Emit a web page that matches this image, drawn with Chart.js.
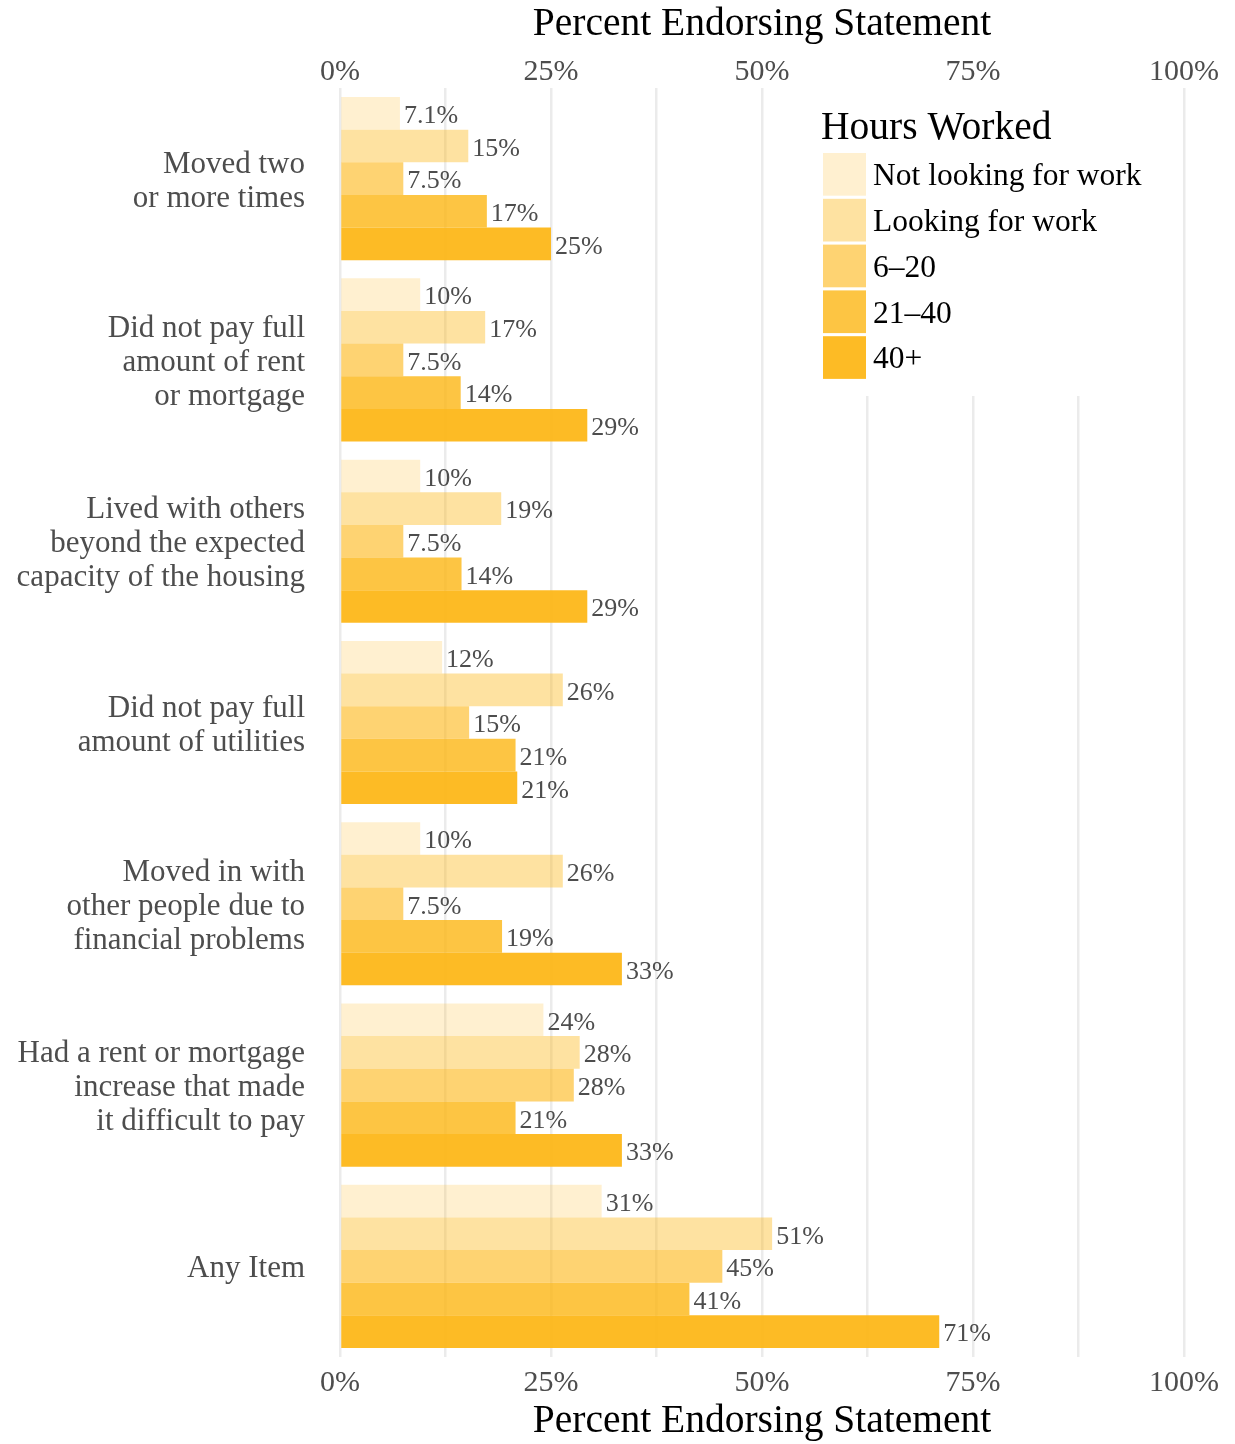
<!DOCTYPE html>
<html>
<head>
<meta charset="utf-8">
<title>Percent Endorsing Statement by Hours Worked</title>
<script src="https://cdn.jsdelivr.net/npm/chart.js@4.4.1/dist/chart.umd.min.js"></script>
<style>
  html, body { margin: 0; padding: 0; background: #fff; }
  #chartBox { width: 1235px; height: 1444px; }
</style>
</head>
<body>
<div id="chartBox"><canvas id="housingChart" width="1235" height="1444"></canvas></div>
<script>
// Housing hardship items (one label line per array entry)
const categories = [
    ['Moved two', 'or more times'],
    ['Did not pay full', 'amount of rent', 'or mortgage'],
    ['Lived with others', 'beyond the expected', 'capacity of the housing'],
    ['Did not pay full', 'amount of utilities'],
    ['Moved in with', 'other people due to', 'financial problems'],
    ['Had a rent or mortgage', 'increase that made', 'it difficult to pay'],
    'Any Item'
];

const seriesNames = ['Not looking for work', 'Looking for work', '6–20', '21–40', '40+'];

// percent endorsing, per group of hours worked
const notLooking = [7.1, 9.5, 9.5, 12.1, 9.5, 24.1, 31.0];
const looking    = [15.2, 17.2, 19.1, 26.4, 26.4, 28.4, 51.2];
const hours6to20 = [7.5, 7.5, 7.5, 15.3, 7.5, 27.7, 45.3];
const hours21to40 = [17.4, 14.3, 14.4, 20.8, 19.2, 20.8, 41.4];
const hours40plus = [25.0, 29.3, 29.3, 21.0, 33.4, 33.4, 71.0];

const xTickLabels = [0, 25, 50, 75, 100];

const FONT = 'Liberation Serif';
const GREY = '#4d4d4d';
const gold = a => 'rgba(253, 182, 20, ' + a + ')';
const fills = [gold(0.2), gold(0.4), gold(0.6), gold(0.8), gold(0.93)];

// 2 significant digits, like the original labels
function pctLabel(v) {
    return (v < 9.5 ? v.toFixed(1) : Math.round(v)) + '%';
}

const seriesValues = [notLooking, looking, hours6to20, hours21to40, hours40plus];

const xTicks = {
    stepSize: 12.5,
    autoSkip: false,
    maxRotation: 0,
    color: GREY,
    font: { family: FONT, size: 30, lineHeight: 1.2 },
    callback: v => xTickLabels.includes(v) ? v + '%' : ''
};

const axisTitle = {
    display: true,
    text: 'Percent Endorsing Statement',
    color: '#000',
    font: { family: FONT, size: 39.5, lineHeight: 1.15 }
};

// value labels at the end of each bar
const barLabels = {
    id: 'barLabels',
    afterDatasetsDraw(chart) {
        const ctx = chart.ctx;
        ctx.save();
        ctx.font = '26px "' + FONT + '"';
        ctx.fillStyle = GREY;
        ctx.textAlign = 'left';
        ctx.textBaseline = 'middle';
        chart.data.datasets.forEach((ds, i) => {
            chart.getDatasetMeta(i).data.forEach((bar, j) => {
                ctx.fillText(pctLabel(ds.data[j]), bar.x + 4, bar.y + 3);
            });
        });
        ctx.restore();
    }
};

// legend drawn inside the plot, top right
const insetLegend = {
    id: 'insetLegend',
    afterDraw(chart) {
        const ctx = chart.ctx;
        const area = chart.chartArea;
        ctx.save();
        ctx.fillStyle = '#fff';
        ctx.fillRect(805, area.top - 2, 360, 398 - area.top);
        ctx.fillStyle = '#000';
        ctx.textAlign = 'left';
        ctx.textBaseline = 'middle';
        ctx.font = '39.5px "' + FONT + '"';
        ctx.fillText('Hours Worked', 821, 129);
        ctx.font = '31.5px "' + FONT + '"';
        chart.data.datasets.forEach((ds, i) => {
            const y = 153 + i * 45.8;
            ctx.fillStyle = ds.backgroundColor;
            ctx.fillRect(823, y, 43, 42.7);
            ctx.fillStyle = '#000';
            ctx.fillText(ds.label, 873, y + 24);
        });
        ctx.restore();
    }
};

new Chart(document.getElementById('housingChart').getContext('2d'), {
    type: 'bar',
    data: {
        labels: categories,
        datasets: seriesNames.map((name, i) => ({
            label: name,
            data: seriesValues[i],
            backgroundColor: fills[i],
            borderWidth: 0,
            categoryPercentage: 0.9,
            barPercentage: 1.0
        }))
    },
    options: {
        indexAxis: 'y',
        responsive: false,
        animation: false,
        devicePixelRatio: 1,
        layout: { padding: { left: 0, right: 51, top: 0, bottom: 0 } },
        plugins: {
            legend: { display: false },
            tooltip: { enabled: false }
        },
        scales: {
            x: {
                type: 'linear',
                position: 'bottom',
                min: 0,
                max: 100,
                ticks: Object.assign({}, xTicks, { padding: 8 }),
                grid: { color: '#ebebeb', lineWidth: 2.5, drawTicks: false },
                border: { display: false },
                title: Object.assign({}, axisTitle, { padding: { top: 0, bottom: 0 } }),
                afterFit: s => { s.height = 87; }
            },
            x2: {
                type: 'linear',
                axis: 'x',
                position: 'top',
                min: 0,
                max: 100,
                ticks: Object.assign({}, xTicks, { padding: -2 }),
                grid: { display: false, drawTicks: false },
                border: { display: false },
                title: Object.assign({}, axisTitle, { padding: { top: 2, bottom: 0 } }),
                afterFit: s => { s.height = 88; }
            },
            y: {
                ticks: {
                    autoSkip: false,
                    color: GREY,
                    padding: 35,
                    labelOffset: 3,
                    font: { family: FONT, size: 31, lineHeight: 1.097 }
                },
                grid: { display: false, drawTicks: false },
                border: { display: false },
                afterFit: s => { s.width = 340; }
            }
        }
    },
    plugins: [barLabels, insetLegend]
});
</script>
</body>
</html>
